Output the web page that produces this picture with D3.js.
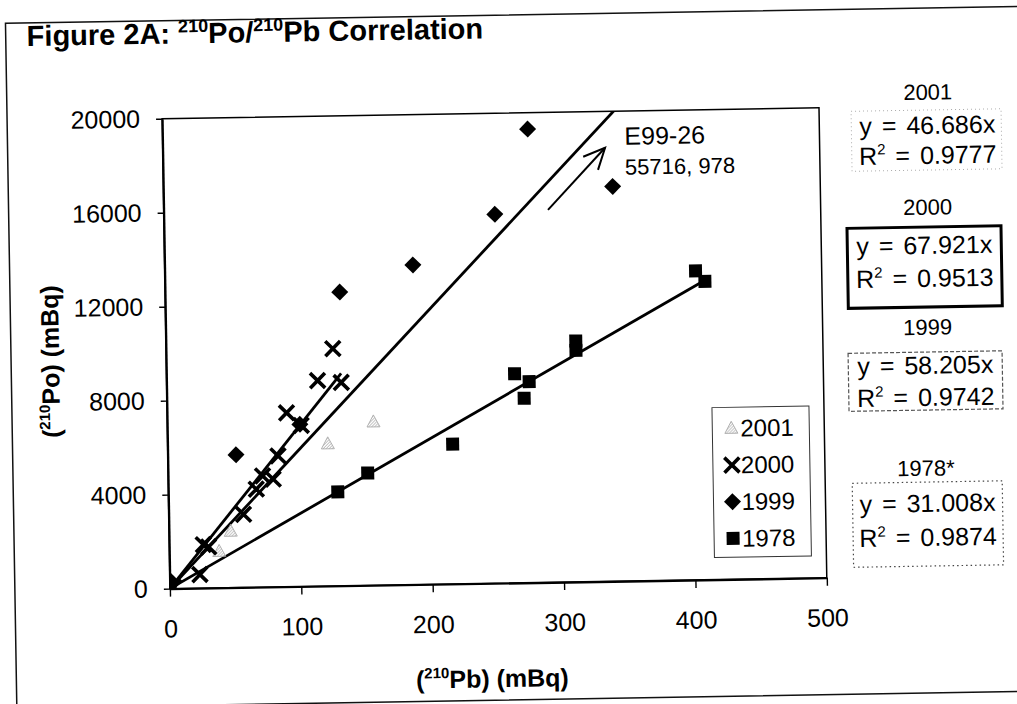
<!DOCTYPE html>
<html>
<head>
<meta charset="utf-8">
<script src="https://cdn.jsdelivr.net/npm/d3@7"></script>
<style>
  body { margin: 0; background: #fff; }
  svg text { font-family: "Liberation Sans", Arial, sans-serif; fill: #000; }
</style>
</head>
<body>
<svg id="chart" width="1017" height="704"></svg>
<script>
// Tick values
const xTicks = [0, 100, 200, 300, 400, 500];
const yTicks = [0, 4000, 8000, 12000, 16000, 20000];

// 210Pb (x) and 210Po (y) readings in mBq, per sampling year
const pb2001 = [38, 47, 122, 157];
const po2001 = [1550, 2400, 6050, 6950];

const pb2000 = [3, 23, 26, 30, 57, 67, 72, 80, 84, 91, 102, 115, 127, 133];
const po2000 = [50, 580, 1850, 1750, 3110, 4170, 4730, 4590, 5570, 7400, 6850, 8750, 10100, 8650];

// last 1999 point (E99-26) is off the chart
const pb1999 = [1, 52, 101, 133, 189, 252, 278, 342, 978];
const po1999 = [300, 5650, 6900, 12500, 13600, 15700, 19300, 16800, 55716];

const pb1978 = [0, 129, 152, 217, 265, 272, 276, 312, 312, 404, 411];
const po1978 = [0, 4000, 4780, 5950, 8900, 7850, 8550, 10250, 9850, 13150, 12700];

// Trendline results shown on the right
const fitLabels = ['2001', '2000', '1999', '1978*'];
const slopes = [46.686, 67.921, 58.205, 31.008];
const rSquared = [0.9777, 0.9513, 0.9742, 0.9874];

const legendYears = ['2001', '2000', '1999', '1978'];

// Off-scale point note
const offPoint = { name: 'E99-26', pb: 978, po: 55716 };

const svg = d3.select('#chart');

// The scanned page sits slightly rotated
const root = svg.append('g').attr('transform', 'rotate(-0.95,508,352)');

const margin = { top: 113, right: 194, bottom: 121, left: 166 };
const width = 1017 - margin.left - margin.right;
const height = 704 - margin.top - margin.bottom;

const x = d3.scaleLinear().domain([0, 500]).range([0, width]);
const y = d3.scaleLinear().domain([0, 20000]).range([height, 0]);

const defs = svg.append('defs');
defs.append('clipPath').attr('id', 'plotClip')
  .append('rect').attr('width', width).attr('height', height);
const hatch = defs.append('pattern').attr('id', 'hatch')
  .attr('patternUnits', 'userSpaceOnUse').attr('width', 3).attr('height', 3);
hatch.append('path').attr('d', 'M0,3 L3,0').attr('stroke', '#999').attr('stroke-width', 0.8);

// Outer frame of the figure
root.append('rect')
  .attr('x', 11).attr('y', 15)
  .attr('width', 1040).attr('height', 685)
  .attr('fill', 'none').attr('stroke', '#111').attr('stroke-width', 1.5);

// Title
const title = root.append('text')
  .attr('x', 32).attr('y', 38)
  .style('font-size', '29px').style('font-weight', 'bold');
title.append('tspan').text('Figure 2A: ');
title.append('tspan').attr('dy', -11).style('font-size', '18px').text('210');
title.append('tspan').attr('dy', 11).text('Po/');
title.append('tspan').attr('dy', -11).style('font-size', '18px').text('210');
title.append('tspan').attr('dy', 11).text('Pb Correlation');

const chart = root.append('g')
  .attr('transform', `translate(${margin.left},${margin.top})`);

// Plot border
chart.append('rect')
  .attr('width', width).attr('height', height)
  .attr('fill', 'none').attr('stroke', '#000').attr('stroke-width', 1.5);

// Axes
const yAxis = chart.append('g')
  .call(d3.axisLeft(y).tickValues(yTicks).tickFormat(d3.format('d'))
    .tickSize(6).tickSizeOuter(0).tickPadding(16));
const xAxis = chart.append('g')
  .attr('transform', `translate(0,${height})`)
  .call(d3.axisBottom(x).tickValues(xTicks).tickFormat(d3.format('d'))
    .tickSize(8).tickSizeOuter(0).tickPadding(23));

[xAxis, yAxis].forEach((ax) => {
  ax.select('.domain').attr('stroke', '#000').attr('stroke-width', 2.2);
  ax.selectAll('.tick line').attr('stroke', '#000').attr('stroke-width', 1.4);
  ax.selectAll('.tick text')
    .style('font-size', '25px')
    .style('font-family', '"Liberation Sans", Arial, sans-serif')
    .attr('fill', '#000');
});

// Axis titles
const xTitle = root.append('text')
  .attr('x', 487).attr('y', 687)
  .attr('text-anchor', 'middle')
  .style('font-size', '25px').style('font-weight', 'bold');
xTitle.append('tspan').text('(');
xTitle.append('tspan').attr('dy', -10).style('font-size', '15px').text('210');
xTitle.append('tspan').attr('dy', 10).text('Pb) (mBq)');

const yTitle = root.append('text')
  .attr('transform', 'translate(59,354) rotate(-90)')
  .attr('text-anchor', 'middle')
  .style('font-size', '25px').style('font-weight', 'bold');
yTitle.append('tspan').text('(');
yTitle.append('tspan').attr('dy', -10).style('font-size', '15px').text('210');
yTitle.append('tspan').attr('dy', 10).text('Po) (mBq)');

// Trendlines (through origin, up to the largest Pb of each series)
const plot = chart.append('g').attr('clip-path', 'url(#plotClip)');
const trendSeries = [
  { pb: pb2000, k: slopes[1] },
  { pb: pb1999, k: slopes[2] },
  { pb: pb1978, k: slopes[3] },
];
plot.selectAll('.trend')
  .data(trendSeries)
  .enter()
  .append('line')
  .attr('class', 'trend')
  .attr('x1', x(0)).attr('y1', y(0))
  .attr('x2', (d) => x(d3.max(d.pb)))
  .attr('y2', (d) => y(d.k * d3.max(d.pb)))
  .attr('stroke', '#000').attr('stroke-width', 2.8);

// Marker shapes
const markers = {
  '2001': (g) => g.append('path').attr('d', 'M0,-7 L6.5,5 L-6.5,5 Z')
    .attr('fill', 'url(#hatch)').attr('stroke', '#aaa').attr('stroke-width', 0.9),
  '2000': (g) => g.append('path').attr('d', 'M-7.5,-7.5 L7.5,7.5 M-7.5,7.5 L7.5,-7.5')
    .attr('stroke', '#000').attr('stroke-width', 3.6).attr('fill', 'none'),
  '1999': (g) => g.append('path').attr('d', 'M0,-8.5 L8.5,0 L0,8.5 L-8.5,0 Z').attr('fill', '#000'),
  '1978': (g) => g.append('rect').attr('x', -6.5).attr('y', -6.5)
    .attr('width', 13).attr('height', 13).attr('fill', '#000'),
};

const series = [
  { year: '1978', pb: pb1978, po: po1978 },
  { year: '2001', pb: pb2001, po: po2001 },
  { year: '1999', pb: pb1999, po: po1999 },
  { year: '2000', pb: pb2000, po: po2000 },
];

series.forEach((s) => {
  const pts = s.pb.map((v, i) => [v, s.po[i]]);
  plot.selectAll(`.pt${s.year}`)
    .data(pts)
    .enter()
    .append('g')
    .attr('class', `pt${s.year}`)
    .attr('transform', (d) => `translate(${x(d[0])},${y(d[1])})`)
    .each(function () { markers[s.year](d3.select(this)); });
});

// Off-scale annotation with arrow
chart.append('line')
  .attr('x1', x(292.5)).attr('y1', y(15850))
  .attr('x2', x(336.7)).attr('y2', y(18450))
  .attr('stroke', '#000').attr('stroke-width', 2);
const tipX = x(336.7);
const tipY = y(18450);
chart.append('path')
  .attr('d', `M${tipX - 22},${tipY + 8.6} L${tipX},${tipY} L${tipX - 7.4},${tipY + 22}`)
  .attr('fill', 'none').attr('stroke', '#000').attr('stroke-width', 2);
chart.append('text')
  .attr('x', x(351.6)).attr('y', y(18566))
  .style('font-size', '25px')
  .text(offPoint.name);
chart.append('text')
  .attr('x', x(351.6)).attr('y', y(17290))
  .style('font-size', '22px')
  .text(`${offPoint.po}, ${offPoint.pb}`);

// Legend
const legend = root.append('g');
legend.append('rect')
  .attr('x', 711).attr('y', 411).attr('width', 97).attr('height', 150)
  .attr('fill', '#fff').attr('stroke', '#333').attr('stroke-width', 1);
const legendRows = legend.selectAll('.legend-row')
  .data(legendYears)
  .enter()
  .append('g')
  .attr('class', 'legend-row')
  .attr('transform', (d, i) => `translate(730,${432 + i * 36.7})`);
legendRows.each(function (d) { markers[d](d3.select(this)); });
legendRows.append('text')
  .attr('x', 9).attr('dy', '0.35em')
  .style('font-size', '24px')
  .text((d) => d);

// Regression result boxes on the right
const boxLayout = [
  { hx: 932, hy: 99, bx: 855, by: 117, bw: 150, bh: 60, tx: 931, l1: 132, l2: 162, stroke: '#aaa', sw: 1, dash: '1,3' },
  { hx: 930, hy: 214, bx: 849, by: 234, bw: 154, bh: 80, tx: 926, l1: 252, l2: 285, stroke: '#000', sw: 3, dash: null },
  { hx: 928, hy: 334, bx: 848, by: 359, bw: 154, bh: 58, tx: 925, l1: 372, l2: 404, stroke: '#555', sw: 1.2, dash: '4,2' },
  { hx: 924, hy: 475, bx: 850, by: 489, bw: 150, bh: 84, tx: 925, l1: 510, l2: 544, stroke: '#444', sw: 1.2, dash: '1.5,3' },
];

const eq = root.append('g');
fitLabels.forEach((label, i) => {
  const b = boxLayout[i];
  eq.append('text')
    .attr('x', b.hx).attr('y', b.hy).attr('dy', '0.35em')
    .attr('text-anchor', 'middle')
    .style('font-size', '22px')
    .text(label);
  eq.append('rect')
    .attr('x', b.bx).attr('y', b.by).attr('width', b.bw).attr('height', b.bh)
    .attr('fill', 'none').attr('stroke', b.stroke).attr('stroke-width', b.sw)
    .attr('stroke-dasharray', b.dash);
  eq.append('text')
    .attr('x', b.tx).attr('y', b.l1).attr('dy', '0.35em')
    .attr('text-anchor', 'middle')
    .style('font-size', '25px').style('word-spacing', '3px')
    .text(`y = ${slopes[i].toFixed(3)}x`);
  const r = eq.append('text')
    .attr('x', b.tx).attr('y', b.l2).attr('dy', '0.35em')
    .attr('text-anchor', 'middle')
    .style('font-size', '25px').style('word-spacing', '3px');
  r.append('tspan').text('R');
  r.append('tspan').attr('dy', -10).style('font-size', '15px').text('2');
  r.append('tspan').attr('dy', 10).text(` = ${rSquared[i].toFixed(4)}`);
});
</script>
</body>
</html>
